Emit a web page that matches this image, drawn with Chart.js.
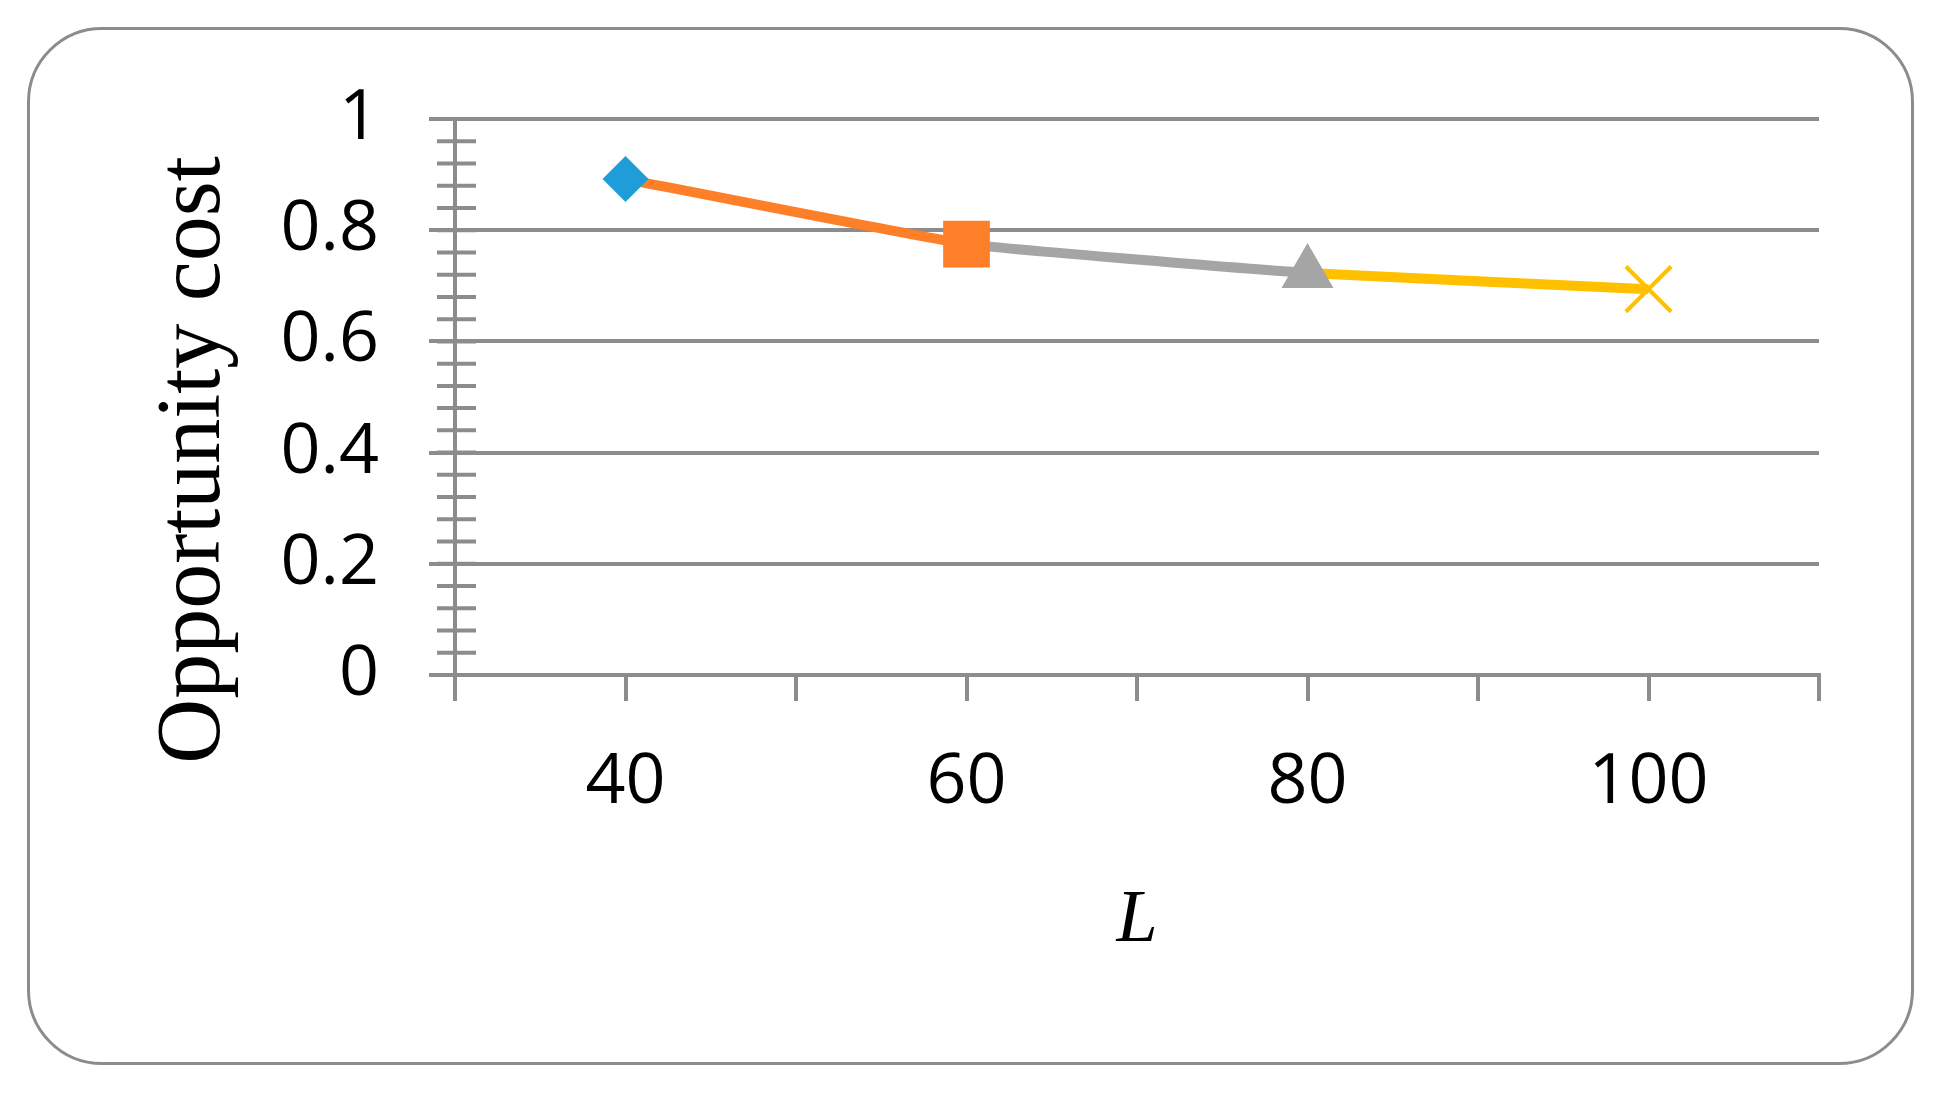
<!DOCTYPE html>
<html>
<head>
<meta charset="utf-8">
<script src="https://cdn.jsdelivr.net/npm/chart.js@4"></script>
<style>
  html, body { margin: 0; padding: 0; background: #fff; }
  #wrap { position: relative; width: 1939px; height: 1095px; }
  #frame { position: absolute; left: 27px; top: 27px; width: 1887px; height: 1038px;
           border: 3px solid #8c8c8c; border-radius: 75px; box-sizing: border-box; }
  canvas { position: absolute; left: 0; top: 0; }
</style>
</head>
<body>
<div id="wrap">
  <div id="frame"></div>
  <canvas id="chart" width="1939" height="1095"></canvas>
</div>
<script>
var lValues = [40, 60, 80, 100];
var costValues = [0.892, 0.775, 0.723, 0.694];
var pointColors = ['#1f9dd9', '#fd7f28', '#a5a5a5', '#ffc000'];
var pointShapes = ['rectRot', 'rect', 'triangle', 'crossRot'];
var pointSizes = [23, 33, 30, 32];
var xTickLabels = [40, 60, 80, 100];

var gridColor = '#8c8c8c';

var extras = {
    id: 'extras',
    afterDraw: function (chart) {
        var ctx = chart.ctx;
        var y = chart.scales.y;
        var x0 = chart.scales.x.getPixelForValue(30);
        ctx.save();
        ctx.strokeStyle = gridColor;
        ctx.lineWidth = 4;
        for (var v = 0; v <= 1.0001; v += 0.04) {
            var py = y.getPixelForValue(v);
            ctx.beginPath();
            ctx.moveTo(x0 - 18, py);
            ctx.lineTo(x0 + 21, py);
            ctx.stroke();
        }
        ctx.fillStyle = '#000';
        ctx.textAlign = 'center';
        ctx.textBaseline = 'middle';
        ctx.font = 'italic 74px "Liberation Serif"';
        ctx.fillText('L', (chart.chartArea.left + chart.chartArea.right) / 2, 922);
        ctx.font = '90px "Liberation Serif"';
        ctx.translate(195, 460);
        ctx.rotate(-Math.PI / 2);
        ctx.fillText('Opportunity cost', 0, 0);
        ctx.restore();
    }
};

new Chart(document.getElementById('chart'), {
    type: 'scatter',
    data: {
        datasets: [{
            data: lValues.map(function (l, i) { return { x: l, y: costValues[i] }; }),
            showLine: true,
            borderWidth: 10,
            tension: 0.1,
            segment: {
                borderColor: function (c) { return pointColors[c.p1DataIndex]; }
            },
            pointStyle: pointShapes,
            pointRadius: pointSizes,
            pointBackgroundColor: pointColors,
            pointBorderColor: pointColors,
            pointBorderWidth: [0, 0, 0, 4]
        }]
    },
    options: {
        responsive: false,
        animation: false,
        layout: { padding: { left: 0, top: 119, right: 120, bottom: 0 } },
        plugins: { legend: { display: false }, tooltip: { enabled: false } },
        scales: {
            x: {
                min: 30, max: 110,
                afterFit: function (s) { s.height = 420; },
                border: { color: gridColor, width: 4 },
                grid: { drawOnChartArea: false, color: gridColor, lineWidth: 4, tickLength: 26 },
                ticks: {
                    stepSize: 10,
                    autoSkip: false,
                    maxRotation: 0,
                    padding: 40,
                    color: '#000',
                    font: { family: 'Open Sans', size: 70 },
                    callback: function (v) { return xTickLabels.indexOf(v) >= 0 ? String(v) : ''; }
                }
            },
            y: {
                min: 0, max: 1,
                afterFit: function (s) { s.width = 455; },
                border: { color: gridColor, width: 4 },
                grid: { color: gridColor, lineWidth: 4, tickLength: 26 },
                ticks: {
                    stepSize: 0.2,
                    padding: 50,
                    color: '#000',
                    font: { family: 'Open Sans', size: 70 },
                    callback: function (v) { return String(Math.round(v * 10) / 10); }
                }
            }
        }
    },
    plugins: [extras]
});
</script>
</body>
</html>
